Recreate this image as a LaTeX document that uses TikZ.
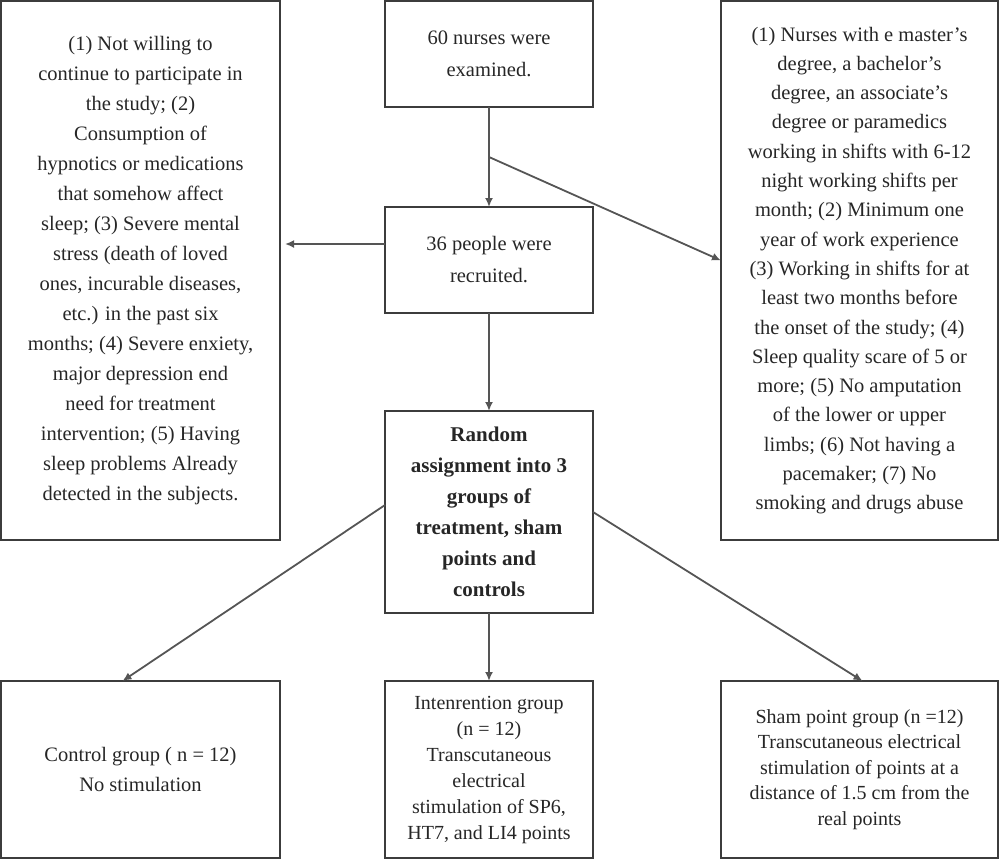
\documentclass[tikz,border=0pt]{standalone}
\usepackage{fontspec}
\setmainfont{Liberation Serif}
\usetikzlibrary{arrows.meta,calc}
\definecolor{boxline}{HTML}{3C3C3C}
\definecolor{conline}{HTML}{555555}
\tikzset{
  box/.style={draw=boxline, line width=2pt, inner sep=0pt, outer sep=0pt, align=center,
    font=\fontsize{20.5}{30}\selectfont, text=black!85},
  conn/.style={draw=conline, line width=1.8pt, -{Latex[length=9pt,width=8pt]}},
}
\begin{document}
\begin{tikzpicture}[x=1pt,y=-1pt]
\useasboundingbox (0,0) rectangle (1000,860);
\node[box, minimum width=279pt, minimum height=539pt] (excl) at (140.5,270.5) {(1) Not willing to\\continue to participate in\\the study; (2)\\Consumption of\\hypnotics or medications\\that somehow affect\\sleep; (3) Severe mental\\stress (death of loved\\ones, incurable diseases,\\etc.) in the past six\\months; (4) Severe enxiety,\\major depression end\\need for treatment\\intervention; (5) Having\\sleep problems Already\\detected in the subjects.};
\node[box, minimum width=277pt, minimum height=539pt, font=\fontsize{20.5}{29.3}\selectfont] (incl) at (859.5,270.5) {(1) Nurses with e master’s\\degree, a bachelor’s\\degree, an associate’s\\degree or paramedics\\working in shifts with 6-12\\night working shifts per\\month; (2) Minimum one\\year of work experience\\(3) Working in shifts for at\\least two months before\\the onset of the study; (4)\\Sleep quality scare of 5 or\\more; (5) No amputation\\of the lower or upper\\limbs; (6) Not having a\\pacemaker; (7) No\\smoking and drugs abuse};
\node[box, minimum width=208pt, minimum height=106pt, font=\fontsize{20.5}{32}\selectfont] (top) at (489,54) {60 nurses were\\examined.};
\node[box, minimum width=208pt, minimum height=106pt, font=\fontsize{20.5}{32}\selectfont] (mid) at (489,260) {36 people were\\recruited.};
\node[box, minimum width=208pt, minimum height=202pt, font=\fontsize{21}{31}\selectfont\bfseries] (rand) at (489,512) {Random\\assignment into 3\\groups of\\treatment, sham\\points and\\controls};
\node[box, minimum width=279pt, minimum height=177pt] (ctrl) at (140.5,769.5) {Control group ( n = 12)\\No stimulation};
\node[box, minimum width=208pt, minimum height=177pt, font=\fontsize{20}{26}\selectfont] (intv) at (489,769.5) {Intenrention group\\(n = 12)\\Transcutaneous\\electrical\\stimulation of SP6,\\HT7, and LI4 points};
\node[box, minimum width=277pt, minimum height=177pt, font=\fontsize{20}{25.5}\selectfont] (sham) at (859.5,769.5) {Sham point group (n =12)\\Transcutaneous electrical\\stimulation of points at a\\distance of 1.5 cm from the\\real points};
\coordinate (br) at ($(top.south)!0.5!(mid.north)$);
\draw[conn] (top.south) -- (mid.north);
\draw[conn] (br) -- ([yshift=10pt]incl.west);
\draw[conn, shorten >=5pt] ([yshift=16pt]mid.west) -- ([yshift=16pt]mid.west -| excl.east);
\draw[conn] (mid.south) -- (rand.north);
\draw[conn] ([yshift=7pt]rand.west) -- ([xshift=-18pt]ctrl.north);
\draw[conn] (rand.east) -- ([xshift=3pt]sham.north);
\draw[conn] (rand.south) -- (intv.north);
\end{tikzpicture}
\end{document}
